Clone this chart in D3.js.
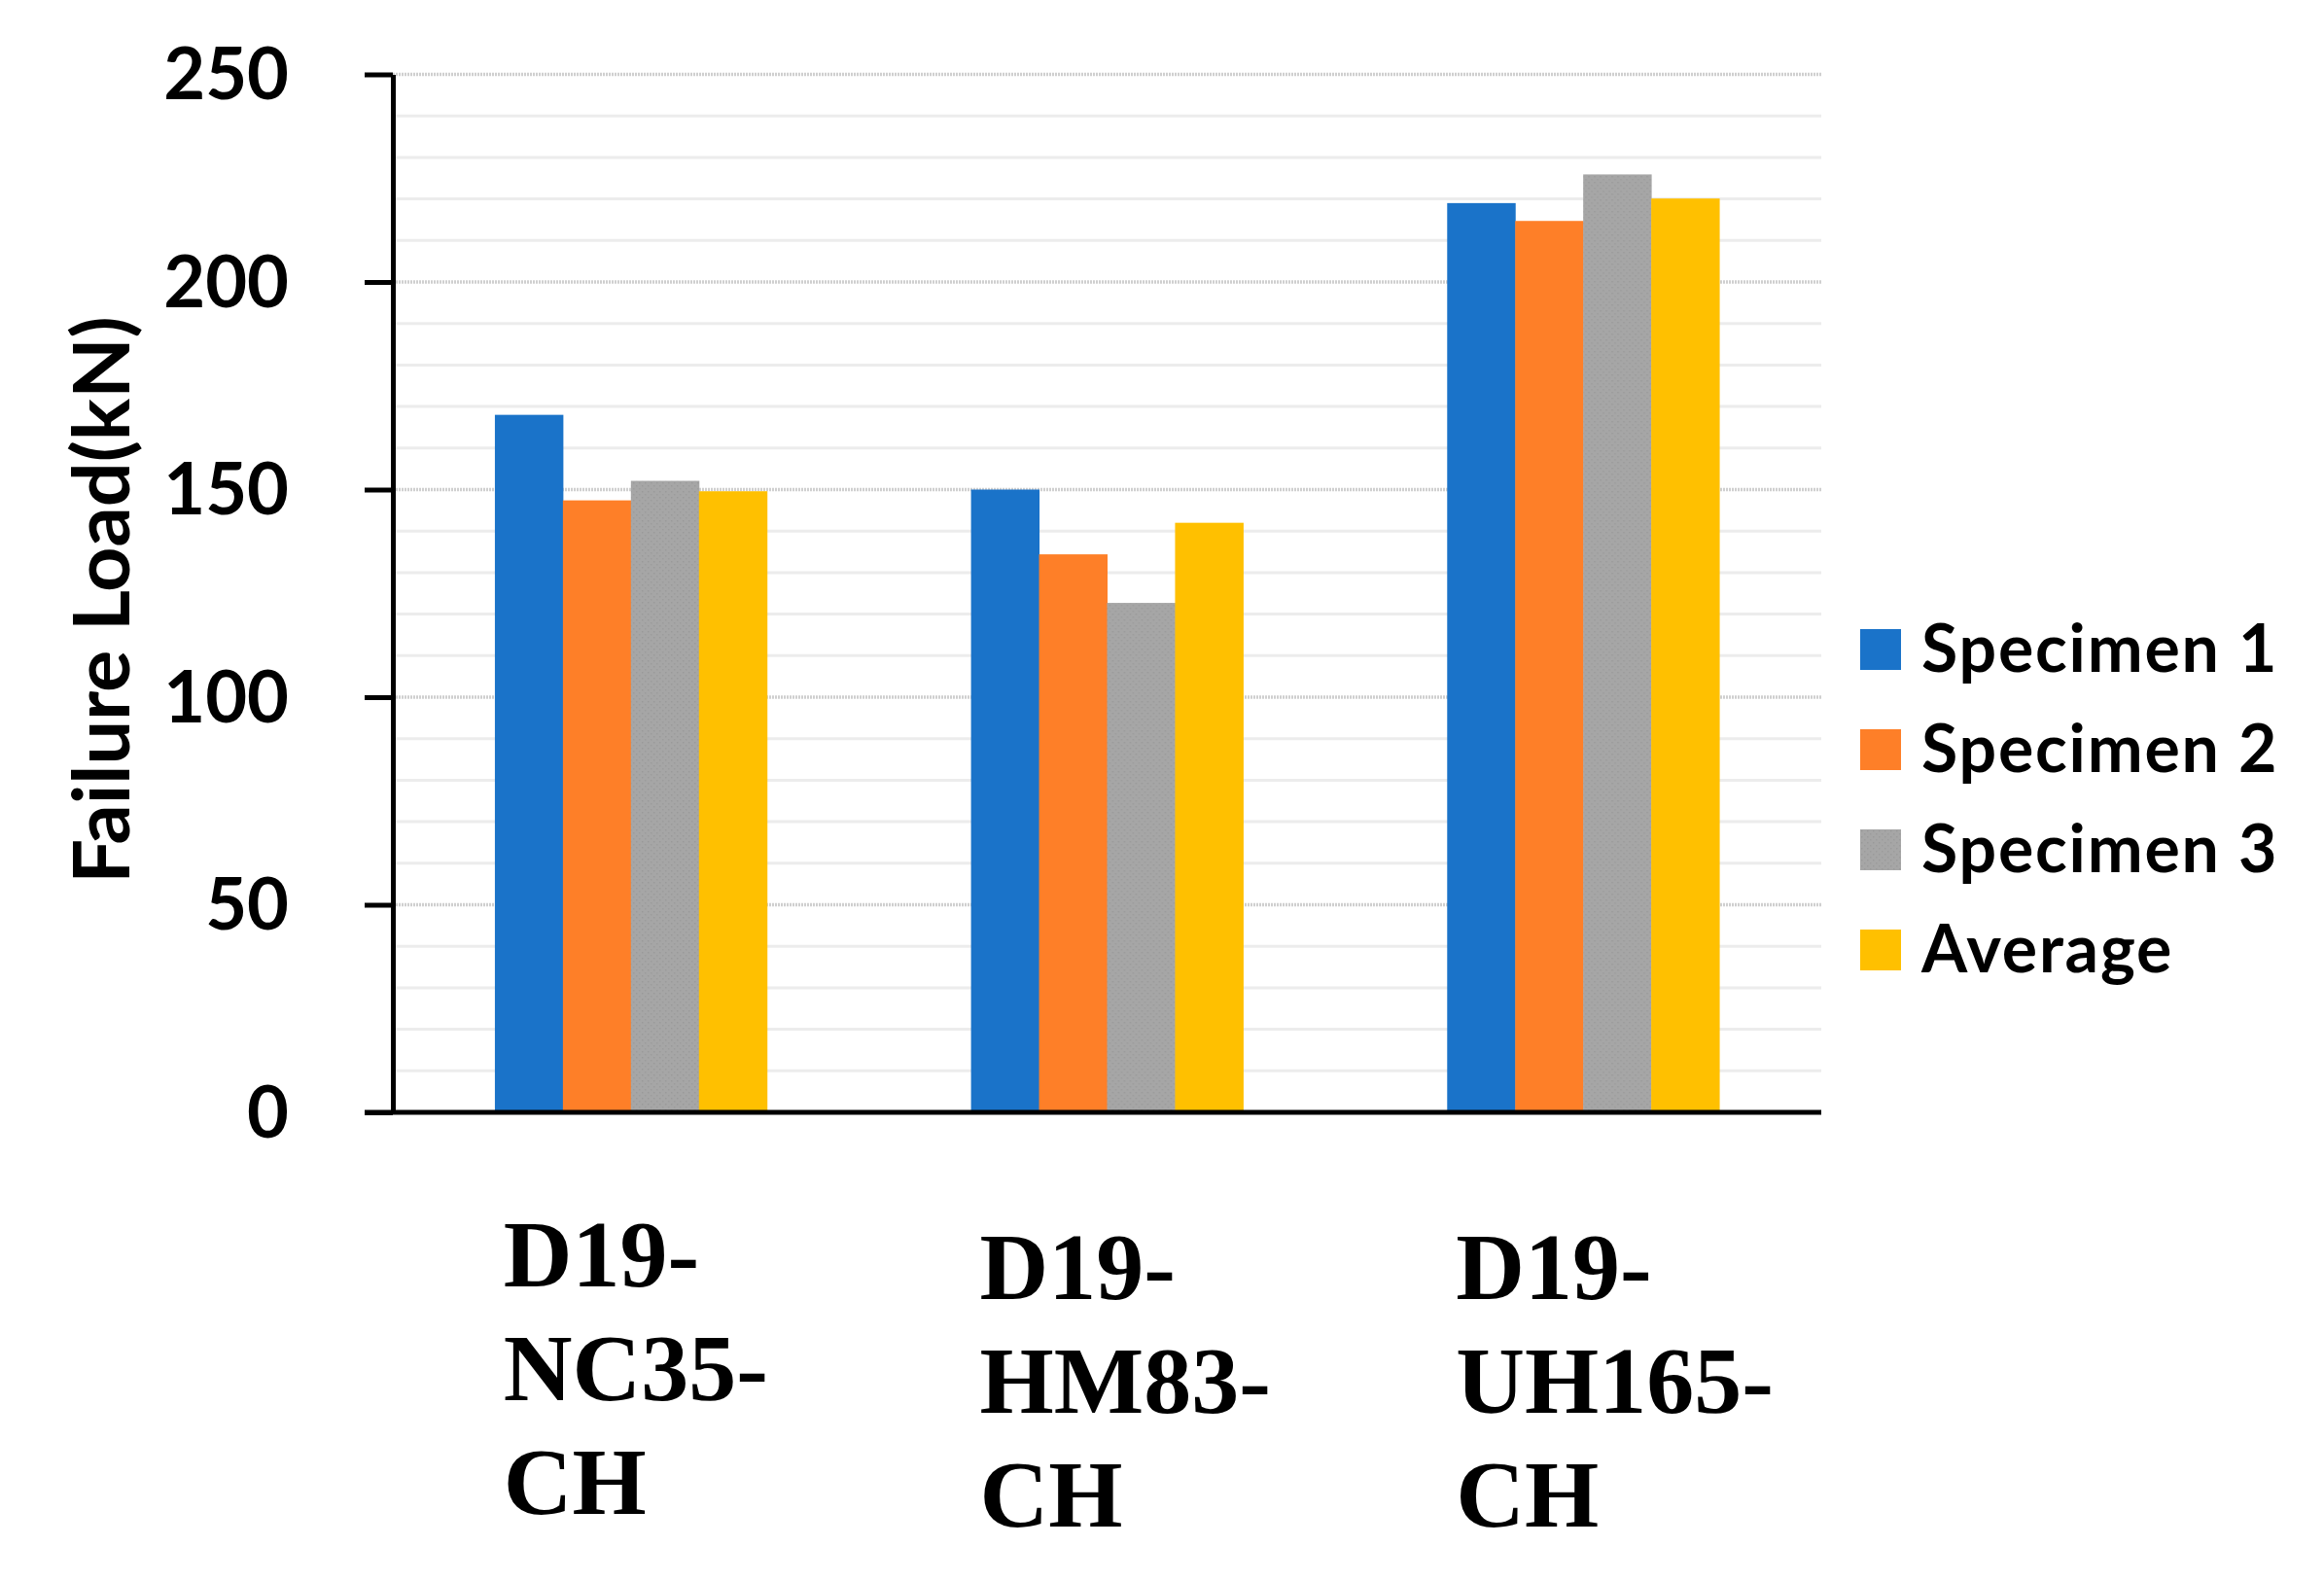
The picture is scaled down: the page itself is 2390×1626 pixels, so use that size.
<!DOCTYPE html>
<html>
<head>
<meta charset="utf-8">
<script src="https://cdn.jsdelivr.net/npm/d3@7"></script>
<style>
  body { margin: 0; background: #fff; }
  svg { display: block; }
</style>
</head>
<body>
<svg id="chart"></svg>
<script>
// data
var categories = ["D19-NC35-CH", "D19-HM83-CH", "D19-UH165-CH"];
var categoryLines = [["D19-", "NC35-", "CH"], ["D19-", "HM83-", "CH"], ["D19-", "UH165-", "CH"]];
var seriesNames = ["Specimen 1", "Specimen 2", "Specimen 3", "Average"];
var specimen1 = [168, 150, 219];
var specimen2 = [147.4, 134.4, 214.7];
var specimen3 = [152.1, 122.7, 225.9];
var average = [149.6, 142.0, 220.1];
var yTicks = [0, 50, 100, 150, 200, 250];
var yMinorTicks = d3.range(10, 250, 10).filter(d => d % 50 !== 0);

var seriesValues = [specimen1, specimen2, specimen3, average];
var colors = ["#1a73c9", "#fe7f28", "#a5a5a5", "#ffc000"];

var W = 2390, H = 1626;
var margin = { top: 76.5, right: 517, bottom: 482, left: 404 };

var svg = d3.select("#chart").attr("width", W).attr("height", H);
svg.append("rect").attr("width", W).attr("height", H).attr("fill", "#fff");

// dotted texture for specimen 3
var defs = svg.append("defs");
var pat = defs.append("pattern").attr("id", "dots")
  .attr("width", 6).attr("height", 6).attr("patternUnits", "userSpaceOnUse");
pat.append("rect").attr("width", 6).attr("height", 6).attr("fill", "#a6a6a6");
pat.append("rect").attr("x", 1).attr("y", 1).attr("width", 1.5).attr("height", 1.5).attr("fill", "#9a9a9a");
pat.append("rect").attr("x", 4).attr("y", 4).attr("width", 1.5).attr("height", 1.5).attr("fill", "#9c9c9c");

var x = d3.scaleBand()
  .domain(categories)
  .range([margin.left, W - margin.right])
  .paddingInner(0.4286)
  .paddingOuter(0.2143);

var xs = d3.scaleBand().domain(seriesNames).range([0, x.bandwidth()]);

var y = d3.scaleLinear().domain([0, 250]).range([H - margin.bottom, margin.top]);

var fill = d3.scaleOrdinal().domain(seriesNames)
  .range([colors[0], colors[1], "url(#dots)", colors[3]]);

// gridlines
svg.append("g").selectAll("line.minor")
  .data(yMinorTicks)
  .join("line")
  .attr("x1", margin.left).attr("x2", W - margin.right)
  .attr("y1", d => y(d)).attr("y2", d => y(d))
  .attr("stroke", "#ececec").attr("stroke-width", 3);

svg.append("g").selectAll("line.major")
  .data(yTicks.filter(d => d > 0))
  .join("line")
  .attr("x1", margin.left).attr("x2", W - margin.right)
  .attr("y1", d => y(d)).attr("y2", d => y(d))
  .attr("stroke", "#cfcfcf").attr("stroke-width", 3.5)
  .attr("stroke-dasharray", "2 1");

// bars
var groups = svg.append("g").selectAll("g")
  .data(categories)
  .join("g")
  .attr("transform", d => `translate(${x(d)},0)`);

groups.selectAll("rect")
  .data((c, i) => seriesNames.map((s, j) => ({ key: s, value: seriesValues[j][i] })))
  .join("rect")
  .attr("x", d => xs(d.key))
  .attr("width", xs.bandwidth() + 0.5)
  .attr("y", d => y(d.value))
  .attr("height", d => y(0) - y(d.value))
  .attr("fill", d => fill(d.key));

// y axis
var yAxis = svg.append("g")
  .attr("transform", `translate(${margin.left},0)`)
  .call(d3.axisLeft(y).tickValues(yTicks).tickSize(29).tickSizeOuter(0).tickPadding(78));

yAxis.select(".domain").attr("stroke", "#000").attr("stroke-width", 5);
yAxis.selectAll(".tick line").attr("stroke", "#000").attr("stroke-width", 5);
yAxis.selectAll(".tick text")
  .attr("fill", "#000")
  .attr("dy", "0.34em")
  .style("font-family", "Lato, sans-serif")
  .style("font-weight", "bold")
  .style("font-size", "74px");

// x axis baseline
svg.append("line")
  .attr("x1", margin.left - 29).attr("x2", W - margin.right)
  .attr("y1", y(0)).attr("y2", y(0))
  .attr("stroke", "#000").attr("stroke-width", 5);

// category labels, wrapped as in the original
var labelShift = [-13, 0, 0];
svg.append("g").selectAll("text")
  .data(categories)
  .join("text")
  .attr("x", d => x(d) + x.bandwidth() / 2 - 131)
  .attr("y", (d, i) => 1336 + labelShift[i])
  .style("font-family", "'Liberation Serif', 'Times New Roman', serif")
  .style("font-weight", "bold")
  .style("font-size", "98px")
  .attr("fill", "#000")
  .selectAll("tspan")
  .data((d, i) => categoryLines[i])
  .join("tspan")
  .attr("x", function() { return this.parentNode.getAttribute("x"); })
  .attr("dy", (d, i) => i === 0 ? 0 : 117)
  .text(d => d);

// y title
svg.append("text")
  .attr("transform", `translate(133,${617}) rotate(-90)`)
  .attr("text-anchor", "middle")
  .style("font-family", "Lato, sans-serif")
  .style("font-weight", "bold")
  .style("font-size", "81px")
  .attr("fill", "#000")
  .text("Failure Load(kN)");

// legend
var legend = svg.append("g").attr("transform", "translate(1913,647)");
var item = legend.selectAll("g")
  .data(seriesNames)
  .join("g")
  .attr("transform", (d, i) => `translate(0,${i * 103})`);
item.append("rect")
  .attr("width", 42).attr("height", 42)
  .attr("fill", d => fill(d));
item.append("text")
  .attr("x", 63).attr("y", 44)
  .style("font-family", "Lato, sans-serif")
  .style("font-weight", "bold")
  .style("font-size", "68px")
  .style("letter-spacing", "1.8px")
  .attr("fill", "#000")
  .text(d => d);
</script>
</body>
</html>
